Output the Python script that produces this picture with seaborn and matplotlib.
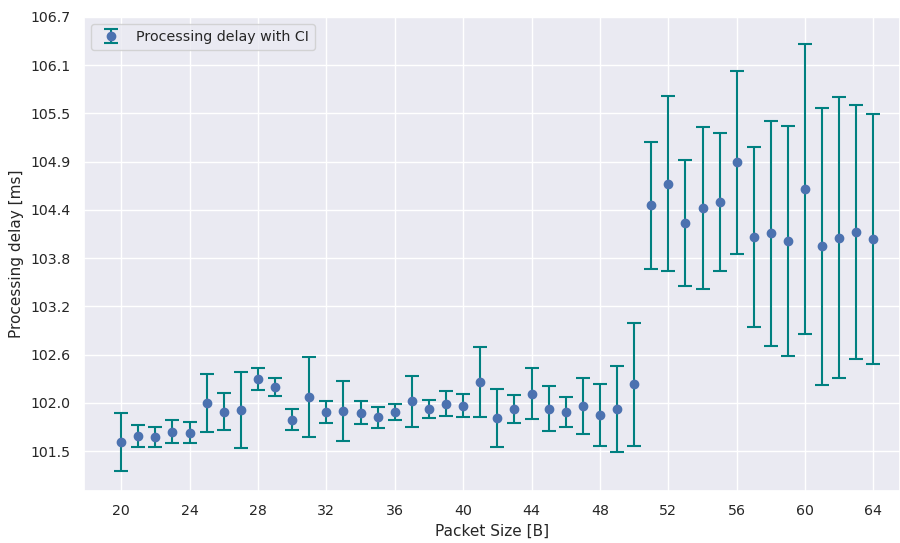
import numpy as np
import matplotlib
matplotlib.use("Agg")
import matplotlib.pyplot as plt
from matplotlib.ticker import FormatStrFormatter
import seaborn as sns

# Measured processing delay per packet size, with confidence-interval half widths
packet_sizes = list(range(20, 65))
mean_delay = [
    101.579, 101.651, 101.639, 101.704, 101.692, 102.047, 101.944, 101.968,
    102.336, 102.240, 101.848, 102.116, 101.936, 101.951, 101.932, 101.873,
    101.939, 102.068, 101.975, 102.040, 102.016, 102.300, 101.872, 101.975,
    102.160, 101.980, 101.939, 102.016, 101.900, 101.975, 102.272, 104.422,
    104.678, 104.209, 104.390, 104.462, 104.938, 104.038, 104.086, 103.990,
    104.614, 103.926, 104.029, 104.098, 104.014,
]
ci_half_width = [
    0.351, 0.134, 0.122, 0.142, 0.128, 0.348, 0.224, 0.456,
    0.135, 0.106, 0.124, 0.477, 0.132, 0.356, 0.134, 0.129,
    0.101, 0.308, 0.104, 0.152, 0.138, 0.416, 0.348, 0.166,
    0.304, 0.267, 0.184, 0.336, 0.372, 0.521, 0.739, 0.763,
    1.049, 0.757, 0.975, 0.829, 1.099, 1.077, 1.351, 1.381,
    1.743, 1.664, 1.686, 1.527, 1.503,
]
x_ticks = list(range(20, 65, 4))
y_tick_low, y_tick_high = 101.47, 106.68

sns.set_theme(style="darkgrid", font_scale=0.9)

fig = plt.figure(figsize=(9.0, 5.43), dpi=100)
ax = fig.add_axes([83.5 / 900, 52 / 543, 1 - 83.5 / 900, 474 / 543])

ax.errorbar(
    packet_sizes, mean_delay, yerr=ci_half_width,
    fmt="o", color="#4C72B0", ecolor="teal",
    elinewidth=1.5, capsize=5, capthick=1.5, markersize=6,
    label="Processing delay with CI",
)

ax.set_xticks(x_ticks)
ax.set_xlim(17.8, 65.55)
ax.set_yticks(np.linspace(y_tick_low, y_tick_high, 10))
ax.yaxis.set_major_formatter(FormatStrFormatter("%.1f"))
ax.set_ylim(100.99, y_tick_high)

ax.set_xlabel("Packet Size [B]", fontsize=11)
ax.set_ylabel("Processing delay [ms]", fontsize=11)
ax.tick_params(labelsize=10.2)
ax.legend(loc="upper left", fontsize=10.3)

fig.savefig("out.png", dpi=100)
